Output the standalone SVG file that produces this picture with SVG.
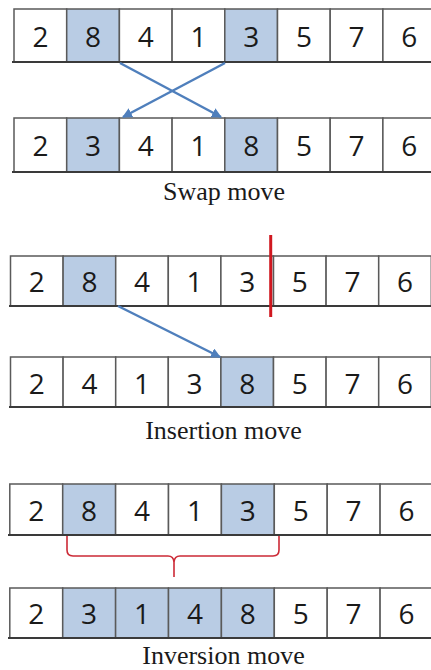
<svg xmlns="http://www.w3.org/2000/svg" width="431" height="670" viewBox="0 0 431 670">
<style>
.c{fill:#ffffff;stroke:#5a5a5a;stroke-width:1.5}
.h{fill:#b9cce4;stroke:#5a5a5a;stroke-width:1.5}
.b{stroke:#3a3a3a;stroke-width:2;fill:none}
.d{font-family:"Open Sans","DejaVu Sans",sans-serif;font-size:28px;fill:#1a1a1a;text-anchor:middle}
.lbl{font-family:"Liberation Serif","Times New Roman",serif;font-size:26px;fill:#1a1a1a;text-anchor:middle}
.arr{stroke:#4f7fbc;stroke-width:2.5;fill:none;marker-end:url(#ah)}
</style>
<defs>
<marker id="ah" viewBox="0 0 10 10" refX="9" refY="5" markerWidth="4" markerHeight="4" orient="auto" markerUnits="strokeWidth">
<path d="M0,0 L10,5 L0,10 z" fill="#4f7fbc"/>
</marker>
</defs>
<rect width="431" height="670" fill="#ffffff"/>

<!-- Row 1 -->
<g id="row1">
<rect class="c" x="14" y="9" width="52.7" height="53"/><text class="d" x="40.4" y="47">2</text>
<rect class="h" x="66.7" y="9" width="52.7" height="53"/><text class="d" x="93" y="47">8</text>
<rect class="c" x="119.4" y="9" width="52.7" height="53"/><text class="d" x="145.8" y="47">4</text>
<rect class="c" x="172.1" y="9" width="52.7" height="53"/><text class="d" x="198.5" y="47">1</text>
<rect class="h" x="224.8" y="9" width="52.7" height="53"/><text class="d" x="251.2" y="47">3</text>
<rect class="c" x="277.5" y="9" width="52.7" height="53"/><text class="d" x="303.9" y="47">5</text>
<rect class="c" x="330.2" y="9" width="52.7" height="53"/><text class="d" x="356.6" y="47">7</text>
<rect class="c" x="382.9" y="9" width="52.7" height="53"/><text class="d" x="409.3" y="47">6</text>
<line class="b" x1="12" y1="62" x2="431" y2="62"/>
</g>

<!-- Row 2 -->
<g id="row2">
<rect class="c" x="14" y="118" width="52.7" height="54"/><text class="d" x="40.4" y="156">2</text>
<rect class="h" x="66.7" y="118" width="52.7" height="54"/><text class="d" x="93" y="156">3</text>
<rect class="c" x="119.4" y="118" width="52.7" height="54"/><text class="d" x="145.8" y="156">4</text>
<rect class="c" x="172.1" y="118" width="52.7" height="54"/><text class="d" x="198.5" y="156">1</text>
<rect class="h" x="224.8" y="118" width="52.7" height="54"/><text class="d" x="251.2" y="156">8</text>
<rect class="c" x="277.5" y="118" width="52.7" height="54"/><text class="d" x="303.9" y="156">5</text>
<rect class="c" x="330.2" y="118" width="52.7" height="54"/><text class="d" x="356.6" y="156">7</text>
<rect class="c" x="382.9" y="118" width="52.7" height="54"/><text class="d" x="409.3" y="156">6</text>
<line class="b" x1="12" y1="172" x2="431" y2="172"/>
</g>
<g id="label-swap"><text class="lbl" x="224" y="200">Swap move</text></g>

<!-- Row 3 -->
<g id="row3">
<rect class="c" x="10.5" y="256" width="52.6" height="50"/><text class="d" x="36.8" y="292">2</text>
<rect class="h" x="63.1" y="256" width="52.6" height="50"/><text class="d" x="89.4" y="292">8</text>
<rect class="c" x="115.7" y="256" width="52.6" height="50"/><text class="d" x="142" y="292">4</text>
<rect class="c" x="168.3" y="256" width="52.6" height="50"/><text class="d" x="194.6" y="292">1</text>
<rect class="c" x="220.9" y="256" width="52.6" height="50"/><text class="d" x="247.2" y="292">3</text>
<rect class="c" x="273.5" y="256" width="52.6" height="50"/><text class="d" x="299.8" y="292">5</text>
<rect class="c" x="326.1" y="256" width="52.6" height="50"/><text class="d" x="352.4" y="292">7</text>
<rect class="c" x="378.7" y="256" width="52.6" height="50"/><text class="d" x="405" y="292">6</text>
<line class="b" x1="9" y1="306" x2="431" y2="306"/>
</g>

<!-- Row 4 -->
<g id="row4">
<rect class="c" x="10.5" y="357" width="52.6" height="50"/><text class="d" x="36.8" y="394">2</text>
<rect class="c" x="63.1" y="357" width="52.6" height="50"/><text class="d" x="89.4" y="394">4</text>
<rect class="c" x="115.7" y="357" width="52.6" height="50"/><text class="d" x="142" y="394">1</text>
<rect class="c" x="168.3" y="357" width="52.6" height="50"/><text class="d" x="194.6" y="394">3</text>
<rect class="h" x="220.9" y="357" width="52.6" height="50"/><text class="d" x="247.2" y="394">8</text>
<rect class="c" x="273.5" y="357" width="52.6" height="50"/><text class="d" x="299.8" y="394">5</text>
<rect class="c" x="326.1" y="357" width="52.6" height="50"/><text class="d" x="352.4" y="394">7</text>
<rect class="c" x="378.7" y="357" width="52.6" height="50"/><text class="d" x="405" y="394">6</text>
<line class="b" x1="9" y1="407" x2="431" y2="407"/>
</g>
<g id="label-insertion"><text class="lbl" x="223.5" y="439">Insertion move</text></g>

<!-- Row 5 -->
<g id="row5">
<rect class="c" x="9.8" y="484" width="52.9" height="51"/><text class="d" x="36.2" y="521">2</text>
<rect class="h" x="62.7" y="484" width="52.9" height="51"/><text class="d" x="89.1" y="521">8</text>
<rect class="c" x="115.6" y="484" width="52.9" height="51"/><text class="d" x="142" y="521">4</text>
<rect class="c" x="168.5" y="484" width="52.9" height="51"/><text class="d" x="194.9" y="521">1</text>
<rect class="h" x="221.4" y="484" width="52.9" height="51"/><text class="d" x="247.8" y="521">3</text>
<rect class="c" x="274.3" y="484" width="52.9" height="51"/><text class="d" x="300.7" y="521">5</text>
<rect class="c" x="327.2" y="484" width="52.9" height="51"/><text class="d" x="353.6" y="521">7</text>
<rect class="c" x="380.1" y="484" width="52.9" height="51"/><text class="d" x="406.5" y="521">6</text>
<line class="b" x1="8" y1="535" x2="431" y2="535"/>
</g>

<!-- Row 6 -->
<g id="row6">
<rect class="c" x="9.8" y="588" width="52.9" height="50"/><text class="d" x="36.2" y="624">2</text>
<rect class="h" x="62.7" y="588" width="52.9" height="50"/><text class="d" x="89.1" y="624">3</text>
<rect class="h" x="115.6" y="588" width="52.9" height="50"/><text class="d" x="142" y="624">1</text>
<rect class="h" x="168.5" y="588" width="52.9" height="50"/><text class="d" x="194.9" y="624">4</text>
<rect class="h" x="221.4" y="588" width="52.9" height="50"/><text class="d" x="247.8" y="624">8</text>
<rect class="c" x="274.3" y="588" width="52.9" height="50"/><text class="d" x="300.7" y="624">5</text>
<rect class="c" x="327.2" y="588" width="52.9" height="50"/><text class="d" x="353.6" y="624">7</text>
<rect class="c" x="380.1" y="588" width="52.9" height="50"/><text class="d" x="406.5" y="624">6</text>
<line class="b" x1="8" y1="638" x2="431" y2="638"/>
</g>
<g id="label-inversion"><text class="lbl" x="223.5" y="664">Inversion move</text></g>

<!-- Connectors -->
<g id="connectors">
<line class="arr" x1="120" y1="63" x2="221" y2="117"/>
<line class="arr" x1="225" y1="63" x2="123" y2="117"/>
<line class="arr" x1="118" y1="306" x2="220" y2="357"/>
<line x1="270.7" y1="235" x2="270.7" y2="317" stroke="#d01820" stroke-width="3"/>
<path d="M67,536 L67,550 Q67,556 73,556 L168,556 Q173.5,556 174,562 L174,577 M174,562 Q174.5,556 180,556 L273,556 Q279,556 279,550 L279,536" fill="none" stroke="#cc2a36" stroke-width="1.6"/>
</g>
</svg>
